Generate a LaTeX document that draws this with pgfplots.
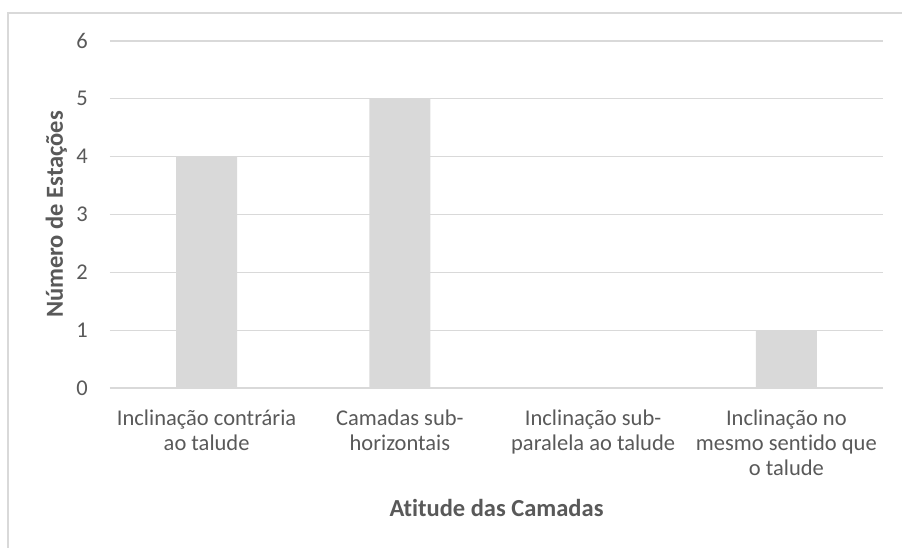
\documentclass[border=0pt]{standalone}
\usepackage{pgfplots}
\pgfplotsset{compat=1.18}
\usepackage{fontspec}
\setmainfont[Ligatures=NoCommon]{Carlito}
\definecolor{txt}{HTML}{595959}
\definecolor{gridc}{HTML}{D9D9D9}
\definecolor{barc}{HTML}{D9D9D9}
\newcommand{\tickfont}{\fontsize{22.5}{25}\selectfont}
\newcommand{\titlefont}{\fontsize{24.5}{28}\selectfont\bfseries}
\begin{document}
\begin{tikzpicture}[x=1pt,y=1pt]
\useasboundingbox (0,0) rectangle (902,548);
% chart area frame
\draw[color=gridc, line width=1.5pt] (8,0) -- (8,535) -- (902,535);
\begin{axis}[
  at={(110pt,160pt)}, anchor=south west,
  scale only axis, width=773pt, height=347pt,
  xmin=-0.5, xmax=3.5, ymin=0, ymax=6,
  ytick={0,1,2,3,4,5,6},
  xtick={0,1,2,3},
  xticklabels={{Inclinação contrária\\ao talude},{Camadas sub-\\horizontais},{Inclinação sub-\\paralela ao talude},{Inclinação no\\mesmo sentido que\\o talude}},
  axis line style={draw=none},
  major tick length=0pt,
  ymajorgrids, grid style={color=gridc, line width=1.2pt},
  /pgf/number format/assume math mode=true,
  tick label style={font=\tickfont, text=txt},
  xticklabel style={align=center, anchor=north, inner sep=0pt, yshift=-22pt},
  yticklabel style={anchor=east, inner sep=0pt, xshift=-22pt},
  ylabel={Número de Estações},
  xlabel={Atitude das Camadas},
  label style={font=\titlefont, text=txt},
  ylabel style={at={(axis description cs:-0.0608,0.5)}, anchor=base},
  xlabel style={at={(axis description cs:0.5,-0.3689)}, anchor=base},
  ybar, bar width=61pt,
]
\addplot[fill=barc, draw=none] coordinates {(0,4) (1,5) (2,0) (3,1)};
\end{axis}
\end{tikzpicture}
\end{document}
